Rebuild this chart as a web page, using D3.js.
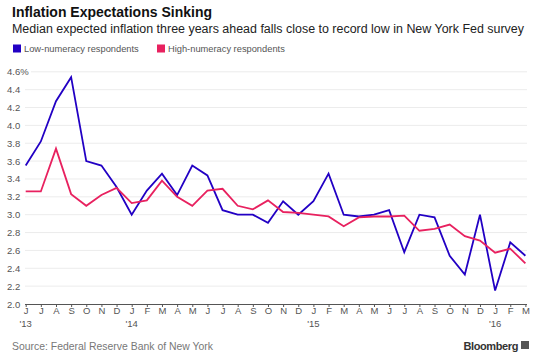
<!DOCTYPE html>
<html><head><meta charset="utf-8">
<script src="https://cdn.jsdelivr.net/npm/d3@7"></script>
<style>body{margin:0;background:#fff;} svg{display:block;font-family:"Liberation Sans",Arial,sans-serif;}</style>
</head><body>
<svg id="c" width="535" height="356"></svg>
<script>
const months = ["J","J","A","S","O","N","D","J","F","M","A","M","J","J","A","S","O","N","D","J","F","M","A","M","J","J","A","S","O","N","D","J","F","M"];
const yearLabels = {0:"'13",7:"'14",19:"'15",31:"'16"};
const lowNumeracy = [3.55,3.82,4.27,4.54,3.60,3.55,3.31,3.00,3.27,3.46,3.22,3.55,3.44,3.05,3.00,3.00,2.91,3.15,3.00,3.15,3.46,3.00,2.98,3.00,3.05,2.58,3.00,2.97,2.54,2.33,3.00,2.15,2.69,2.54];
const highNumeracy = [3.26,3.26,3.74,3.23,3.10,3.22,3.30,3.13,3.16,3.38,3.20,3.10,3.27,3.29,3.10,3.06,3.16,3.03,3.02,3.00,2.98,2.87,2.97,2.98,2.98,2.99,2.82,2.84,2.89,2.76,2.71,2.575,2.62,2.455];
const yTicks = [2.0,2.2,2.4,2.6,2.8,3.0,3.2,3.4,3.6,3.8,4.0,4.2,4.4,4.6];
const seriesNames = ["Low-numeracy respondents","High-numeracy respondents"];
const colors = ["#2200c4","#e8215f"];

const svg = d3.select("#c");
const x = d3.scaleLinear().domain([0, months.length-1]).range([25.7, 525.4]);
const y = d3.scaleLinear().domain([2.0, 4.6]).range([304, 71.8]);

// title
svg.append("text").attr("x",12).attr("y",17).attr("font-size",15.5).attr("font-weight","bold")
  .attr("textLength",200).attr("lengthAdjust","spacingAndGlyphs").attr("fill","#111").text("Inflation Expectations Sinking");
svg.append("text").attr("x",12).attr("y",33).attr("font-size",12).attr("fill","#222")
  .attr("textLength",512).attr("lengthAdjust","spacingAndGlyphs")
  .text("Median expected inflation three years ahead falls close to record low in New York Fed survey");

// legend
const lx = [13, 157];
seriesNames.forEach((n,i)=>{
  svg.append("rect").attr("x",lx[i]).attr("y",44.5).attr("width",8).attr("height",8).attr("fill",colors[i]);
  svg.append("text").attr("x",lx[i]+11).attr("y",52).attr("font-size",9.3).attr("fill","#555").text(n);
});

// grid
const g = svg.append("g");
yTicks.forEach(t=>{
  if (t>2.0) g.append("line").attr("x1", t===4.6?31:25).attr("x2",527).attr("y1",y(t)).attr("y2",y(t))
    .attr("stroke","#ececec").attr("stroke-width",1);
  g.append("text").attr("x",7).attr("y",y(t)+3.5).attr("font-size",9.5).attr("fill","#555")
    .text(t.toFixed(1)+(t===4.6?"%":""));
});

// x axis
const xAxis = d3.axisBottom(x).tickValues(d3.range(months.length)).tickSize(3).tickFormat(i=>months[i]);
const ax = svg.append("g").attr("transform","translate(0,304)").call(xAxis);
ax.select(".domain").attr("stroke","#555").attr("d","M25,0.5H527");
ax.selectAll(".tick line").attr("stroke","#555");
ax.selectAll(".tick text").attr("font-size",9.5).attr("fill","#555").attr("dy","0.55em").attr("y",5)
  .attr("font-family","Liberation Sans, Arial, sans-serif");
Object.entries(yearLabels).forEach(([i,l])=>{
  svg.append("text").attr("x",x(+i)).attr("y",327).attr("text-anchor","middle").attr("font-size",9.5)
    .attr("fill","#555").text(l);
});

// lines
const line = d3.line().x((d,i)=>x(i)).y(d=>y(d));
[lowNumeracy, highNumeracy].forEach((s,i)=>{
  svg.append("path").datum(s).attr("d",line).attr("fill","none").attr("stroke",colors[i])
    .attr("stroke-width",1.8).attr("stroke-linejoin","miter");
});

// footer
svg.append("text").attr("x",12).attr("y",350).attr("font-size",10.6).attr("fill","#777")
  .attr("textLength",201).attr("lengthAdjust","spacingAndGlyphs")
  .text("Source: Federal Reserve Bank of New York");
svg.append("text").attr("x",518).attr("y",350).attr("text-anchor","end").attr("font-size",11)
  .attr("font-weight","bold").attr("letter-spacing","-0.4").attr("fill","#333").text("Bloomberg");
svg.append("rect").attr("x",521).attr("y",341).attr("width",8).attr("height",8).attr("fill","#555");
</script>
</body></html>
